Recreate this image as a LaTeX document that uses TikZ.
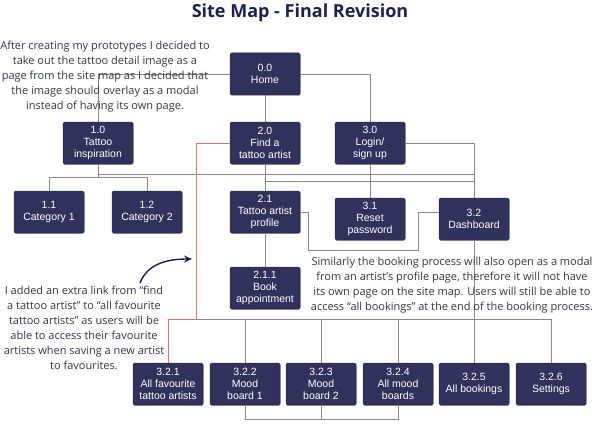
\documentclass[tikz,border=0pt]{standalone}
\usepackage{fontspec}
\setmainfont{Open Sans}
\newfontfamily\boxfont{Liberation Sans}
\usetikzlibrary{shadows,arrows.meta}
\definecolor{navy}{HTML}{30325C}
\definecolor{titlecol}{HTML}{1D2152}
\definecolor{notecol}{HTML}{35364A}
\definecolor{linecol}{HTML}{888888}
\definecolor{redline}{HTML}{E07070}
\begin{document}
\begin{tikzpicture}[x=1pt,y=-1pt,
  box/.style={draw=navy!80!black, line width=0.5pt, fill=navy, rounded corners=1.5pt,
    minimum width=70pt, minimum height=42pt, inner sep=0pt, align=center,
    text=white, font=\boxfont\fontsize{10.5}{12}\selectfont,
    drop shadow={shadow xshift=0.6pt, shadow yshift=-0.9pt, opacity=0.25, fill=black}},
  note/.style={align=center, text=notecol, inner sep=0pt, font=\fontsize{11}{15}\selectfont},
  conn/.style={draw=linecol, line width=0.85pt},
  redconn/.style={draw=redline, line width=0.85pt},
  curvearrow/.style={draw=titlecol, line width=1.4pt, -{Stealth[length=8pt,width=7pt]}}]
\useasboundingbox[fill=white] (0,0) rectangle (600,436);

\node[font=\bfseries\fontsize{18}{20}\selectfont, text=titlecol] (title) at (300,13) {Site Map - Final Revision};

% helper coordinates
\coordinate (r177) at (0,177);
\coordinate (r174) at (474,174);
\coordinate (r181) at (474,181);
\coordinate (k1) at (308,250);
\coordinate (k2) at (418,250);
\coordinate (bus) at (0,319);
\coordinate (bot) at (0,419);
\coordinate (rx) at (196,319);
\coordinate (arrS) at (140,283);
\coordinate (arrE) at (192,259);
\coordinate (c00) at (265,74);
\coordinate (c10) at (98,143);
\coordinate (c20) at (265,143);
\coordinate (c30) at (370,143);

% connectors from Home (drawn under the nodes)
\draw[conn] (c00) -| (c10);
\draw[conn] (c00) -| (c30);
\draw[conn] (c00) -- (c20);

% nodes
\node[box] (n00) at (c00) {0.0\\Home};
\node[box] (n10) at (c10) {1.0\\Tattoo\\inspiration};
\node[box] (n20) at (c20) {2.0\\Find a\\tattoo artist};
\node[box] (n30) at (c30) {3.0\\Login/\\sign up};
\node[box] (n11) at (49,212) {1.1\\Category 1};
\node[box] (n12) at (147,212) {1.2\\Category 2};
\node[box] (n21) at (265,212) {2.1\\Tattoo artist\\profile};
\node[box] (n31) at (370,219) {3.1\\Reset\\password};
\node[box] (n32) at (474,219) {3.2\\Dashboard};
\node[box] (n211) at (265,288) {2.1.1\\Book\\appointment};
\node[box] (n321) at (168,384) {3.2.1\\All favourite\\tattoo artists};
\node[box] (n322) at (245,384) {3.2.2\\Mood\\board 1};
\node[box] (n323) at (321,384) {3.2.3\\Mood\\board 2};
\node[box] (n324) at (398,384) {3.2.4\\All mood\\boards};
\node[box] (n325) at (474,384) {3.2.5\\All bookings};
\node[box] (n326) at (551,384) {3.2.6\\Settings};

% connectors
\draw[conn] (n10.south) -- (n10.south |- r177) -| (n11.north);
\draw[conn] (n10.south |- r177) -| (n12.north);
\draw[conn] (n10.south) |- (r174) -- (n32.north);
\draw[conn] (n20.south) -- (n21.north);
\draw[conn] (n20.south) |- (r181) -- (n32.north);
\draw[conn] (n30.east) -| (n32.north);
\draw[conn] (n30.south) -- (n31.north);
\draw[conn] (n21.east) -| (k1) -- (k2) |- (n32.west |- n21.east);
\draw[conn] (n21.south) -- (n211.north);
\draw[conn] (n32.south) -- (n32.south |- bus);
\draw[conn] (n321.north) |- (n326.north |- bus) -- (n326.north);
\foreach \n in {n322,n323,n324,n325} \draw[conn] (\n.north) -- (\n.north |- bus);
\draw[conn] (n322.south) |- (n324.south |- bot) -- (n324.south);
\draw[conn] (n323.south) -- (n323.south |- bot);
\draw[redconn] (n20.west) -| (rx) -| (n321.north);

% notes
\node[note] (note1) at (105,77) {After creating my prototypes I decided to\\take out the tattoo detail image as a\\page from the site map as I decided that\\the image should overlay as a modal\\instead of having its own page.};
\node[note] (note2) at (84,328) {I added an extra link from “find\\a tattoo artist” to “all favourite\\tattoo artists” as users will be\\able to access their favourite\\artists when saving a new artist\\to favourites.};
\node[note] (note3) at (452,285.5) {Similarly the booking process will also open as a modal\\from an artist’s profile page, therefore it will not have\\its own page on the site map. Users will still be able to\\access “all bookings” at the end of the booking process.};

\draw[curvearrow] (arrS) .. controls (147,265) and (165,259) .. (arrE);
\end{tikzpicture}
\end{document}
